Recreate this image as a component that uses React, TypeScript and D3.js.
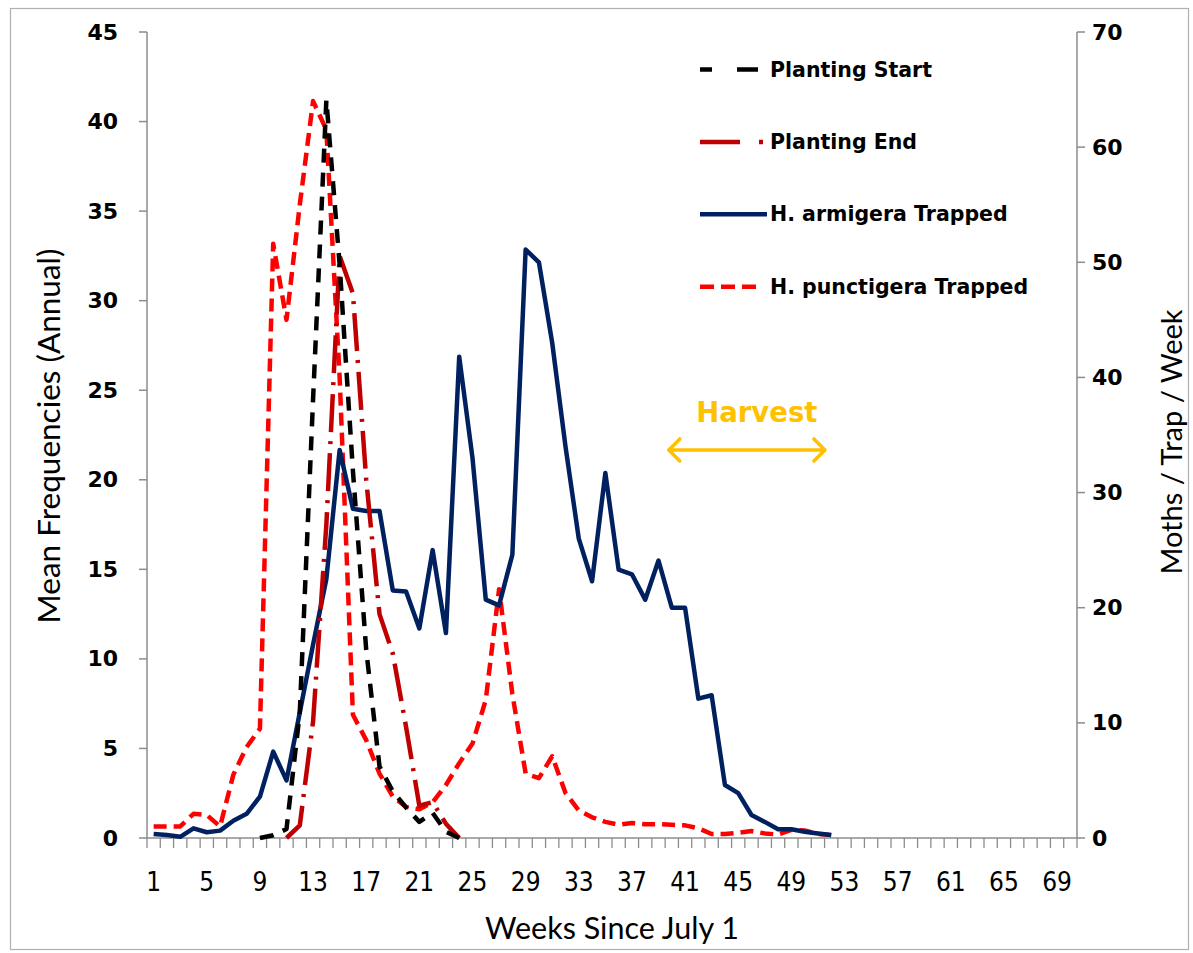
import React from "react";
import * as d3 from "d3";

// ---- Data ----
const weeks: number[] = d3.range(1, 71);
const xTickLabels: number[] = weeks.filter((w) => (w - 1) % 4 === 0);
const leftTicks: number[] = [0, 5, 10, 15, 20, 25, 30, 35, 40, 45];
const rightTicks: number[] = [0, 10, 20, 30, 40, 50, 60, 70];

// Planting Start (left axis), weeks 9..24
const plantingStartFirstWeek = 9;
const plantingStart: number[] = [0, 0.15, 0.5, 7.0, 24.5, 41.2, 32.0, 20.5, 10.5, 4.0, 2.6, 1.7, 0.9, 1.4, 0.35, 0];

// Planting End (left axis), weeks 11..24
const plantingEndFirstWeek = 11;
const plantingEnd: number[] = [0, 0.7, 6.5, 17.5, 32.5, 30.4, 20.0, 12.5, 10.3, 6.2, 1.8, 2.0, 0.8, 0];

// H. armigera trapped (right axis), weeks 1..52
const armigera: number[] = [
  0.35, 0.26, 0.1, 0.84, 0.5, 0.64, 1.5, 2.1, 3.6, 7.5,
  5.0, 10.9, 16.8, 22.5, 33.7, 28.6, 28.4, 28.4, 21.5, 21.4,
  18.2, 25.0, 17.8, 41.8, 33.0, 20.7, 20.2, 24.6, 51.1, 50.0,
  43.0, 34.0, 26.0, 22.3, 31.7, 23.3, 22.9, 20.7, 24.1, 20.0,
  20.0, 12.1, 12.4, 4.6, 3.9, 2.0, 1.4, 0.76, 0.76, 0.55,
  0.4, 0.26,
];

// H. punctigera trapped (right axis), weeks 1..52
const punctigera: number[] = [
  1.0, 1.0, 1.0, 2.1, 2.0, 1.0, 5.5, 7.9, 9.5, 51.6,
  45.0, 55.0, 64.0, 61.5, 40.0, 10.7, 8.5, 5.6, 3.6, 2.7,
  2.5, 3.1, 4.6, 6.5, 8.2, 12.0, 21.6, 12.5, 5.6, 5.2,
  7.1, 3.9, 2.4, 1.8, 1.4, 1.15, 1.3, 1.2, 1.2, 1.15,
  1.1, 0.85, 0.35, 0.35, 0.45, 0.6, 0.4, 0.3, 0.7, 0.65,
  0.35, 0.25,
];

// Harvest annotation (week range, right-axis level)
const harvestWeeks: [number, number] = [39.7, 51.6];
const harvestLevel = 33.7;
const harvestTextLevel = 37.0;

const legendItems = [
  { label: "Planting Start", color: "#000000", dash: "14,10", legendDash: "12,25,21,40", legendLen: 58, width: 4.5 },
  { label: "Planting End", color: "#C00000", dash: "38,9,3,9", legendDash: "40,19,4,40", legendLen: 63, width: 4.5 },
  { label: "H. armigera Trapped", color: "#002060", dash: "", legendDash: "", legendLen: 67, width: 4.5 },
  { label: "H. punctigera Trapped", color: "#FF0000", dash: "13,7", legendDash: "14,7", legendLen: 57, width: 4.5 },
];

// ---- Layout ----
const W = 1193;
const H = 953;
const plot = { left: 147, right: 1077, top: 32, bottom: 838 };
const AXIS = "#8c8c8c";

export default function App() {
  const x = d3
    .scaleBand<number>()
    .domain(weeks)
    .range([plot.left, plot.right])
    .padding(0);
  const bw = x.bandwidth();
  const xc = (w: number) => (x(w) as number) + bw / 2;
  const xLin = d3.scaleLinear().domain([0.5, 70.5]).range([plot.left, plot.right]);
  const yL = d3.scaleLinear().domain([0, 45]).range([plot.bottom, plot.top]);
  const yR = d3.scaleLinear().domain([0, 70]).range([plot.bottom, plot.top]);

  const mk = (vals: number[], first: number, y: d3.ScaleLinear<number, number>) =>
    d3
      .line<number>()
      .x((_, i) => xc(first + i))
      .y((d) => y(d))(vals) as string;

  const series = [
    { d: mk(punctigera, 1, yR), ...legendItems[3] },
    { d: mk(armigera, 1, yR), ...legendItems[2] },
    { d: mk(plantingEnd, plantingEndFirstWeek, yL), ...legendItems[1] },
    { d: mk(plantingStart, plantingStartFirstWeek, yL), ...legendItems[0] },
  ];

  const tickFont = "'DejaVu Sans', Verdana, sans-serif";
  const narrowFont = "'Liberation Sans Narrow', 'Arial Narrow', 'DejaVu Sans Condensed', sans-serif";
  const titleFont = "Lato, 'Open Sans', sans-serif";

  const hx0 = xLin(harvestWeeks[0]);
  const hx1 = xLin(harvestWeeks[1]);
  const hy = yR(harvestLevel);
  const gold = "#FFC000";

  const legendX = 700;
  const legendY0 = 69.5;
  const legendDy = 72.4;

  return (
    <svg
      width={W}
      height={H}
      style={{ position: "absolute", left: 0, top: 0, background: "#fff" }}
    >
      <rect x={0} y={0} width={W} height={H} fill="#fff" />
      <rect x={10.5} y={8.5} width={1178} height={941} fill="none" stroke="#b0b0b0" strokeWidth={1.2} />

      {/* axes */}
      <line x1={plot.left} x2={plot.left} y1={plot.top} y2={plot.bottom} stroke={AXIS} strokeWidth={1.5} />
      <line x1={plot.right} x2={plot.right} y1={plot.top} y2={plot.bottom} stroke={AXIS} strokeWidth={1.5} />
      <line x1={plot.left} x2={plot.right} y1={plot.bottom} y2={plot.bottom} stroke={AXIS} strokeWidth={1.5} />

      {leftTicks.map((t) => (
        <g key={"l" + t}>
          <line x1={plot.left - 8} x2={plot.left} y1={yL(t)} y2={yL(t)} stroke={AXIS} strokeWidth={1.5} />
          <text
            x={118}
            y={yL(t)}
            textAnchor="end"
            dominantBaseline="central"
            fontFamily={tickFont}
            fontWeight="bold"
            fontSize={22}
            fill="#000"
          >
            {t}
          </text>
        </g>
      ))}
      {rightTicks.map((t) => (
        <g key={"r" + t}>
          <line x1={plot.right} x2={plot.right + 8} y1={yR(t)} y2={yR(t)} stroke={AXIS} strokeWidth={1.5} />
          <text
            x={1092}
            y={yR(t)}
            textAnchor="start"
            dominantBaseline="central"
            fontFamily={tickFont}
            fontWeight="bold"
            fontSize={22}
            fill="#000"
          >
            {t}
          </text>
        </g>
      ))}
      {d3.range(0, weeks.length + 1).map((i) => {
        const xx = plot.left + i * bw;
        return <line key={"xt" + i} x1={xx} x2={xx} y1={plot.bottom} y2={plot.bottom + 10} stroke={AXIS} strokeWidth={1.3} />;
      })}
      {xTickLabels.map((w) => (
        <text
          key={"xl" + w}
          x={xc(w)}
          y={882}
          textAnchor="middle"
          dominantBaseline="central"
          fontFamily={narrowFont}
          fontSize={26}
          fill="#000"
        >
          {w}
        </text>
      ))}

      {/* titles */}
      <text x={612} y={927} textAnchor="middle" dominantBaseline="central" fontFamily={titleFont} fontSize={30.5} fill="#000">
        Weeks Since July 1
      </text>
      <text
        transform={`translate(48,436) rotate(-90)`}
        textAnchor="middle"
        dominantBaseline="central"
        fontFamily={titleFont}
        fontSize={31.5}
        fill="#000"
      >
        Mean Frequencies (Annual)
      </text>
      <text
        transform={`translate(1170,442) rotate(-90)`}
        textAnchor="middle"
        dominantBaseline="central"
        fontFamily={titleFont}
        fontSize={29}
        fill="#000"
      >
        Moths / Trap / Week
      </text>

      {/* series */}
      {series.map((s, i) => (
        <path
          key={"s" + i}
          d={s.d}
          fill="none"
          stroke={s.color}
          strokeWidth={s.width}
          strokeDasharray={s.dash || undefined}
          strokeLinejoin="round"
        />
      ))}

      {/* harvest annotation */}
      <text x={(hx0 + hx1) / 2 + 10} y={yR(harvestTextLevel)} textAnchor="middle" dominantBaseline="central" fontFamily={tickFont} fontWeight="bold" fontSize={27.5} fill={gold}>
        Harvest
      </text>
      <line x1={hx0} x2={hx1} y1={hy} y2={hy} stroke={gold} strokeWidth={3.5} />
      <polyline points={`${hx0 + 12},${hy - 11} ${hx0 + 1},${hy} ${hx0 + 12},${hy + 11}`} fill="none" stroke={gold} strokeWidth={3.5} strokeLinecap="round" strokeLinejoin="round" />
      <polyline points={`${hx1 - 12},${hy - 11} ${hx1 - 1},${hy} ${hx1 - 12},${hy + 11}`} fill="none" stroke={gold} strokeWidth={3.5} strokeLinecap="round" strokeLinejoin="round" />

      {/* legend */}
      {legendItems.map((it, i) => {
        const ly = legendY0 + i * legendDy;
        return (
          <g key={"lg" + i}>
            <line
              x1={legendX}
              x2={legendX + it.legendLen}
              y1={ly}
              y2={ly}
              stroke={it.color}
              strokeWidth={it.width}
              strokeDasharray={it.legendDash || undefined}
            />
            <text x={770} y={ly} dominantBaseline="central" fontFamily={tickFont} fontWeight="bold" fontSize={20.5} fill="#000">
              {it.label}
            </text>
          </g>
        );
      })}
    </svg>
  );
}
